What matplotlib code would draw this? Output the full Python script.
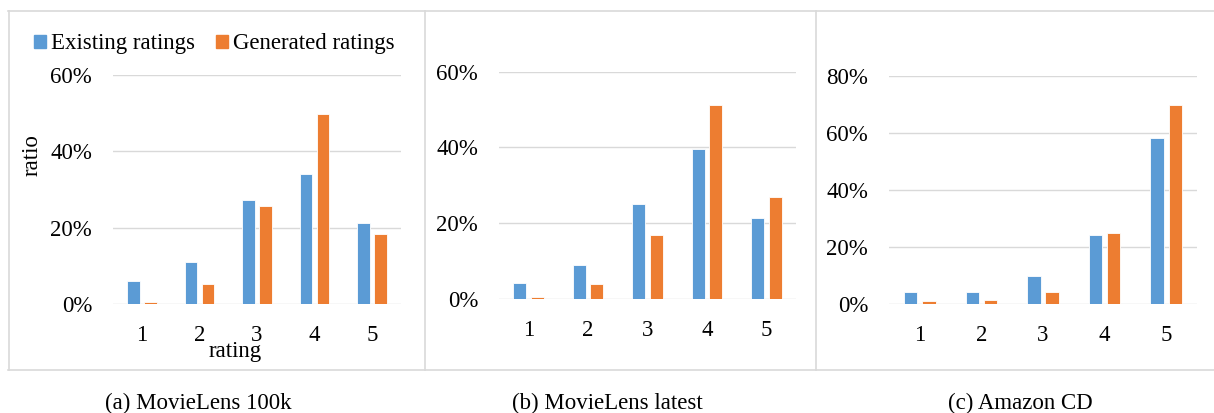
import matplotlib.pyplot as plt
from matplotlib.lines import Line2D
from matplotlib.patches import Patch
from matplotlib.ticker import FuncFormatter
import numpy as np

plt.rcParams['font.family'] = ['Liberation Serif', 'DejaVu Serif']
plt.rcParams['font.size'] = 16.5

# rating distributions, in percent
ratings = ['1', '2', '3', '4', '5']

ml100k_existing = [5.9, 11.1, 27.2, 34.1, 21.1]
ml100k_generated = [0.5, 5.2, 25.7, 49.7, 18.3]

mllatest_existing = [4.1, 9.1, 25.2, 39.5, 21.5]
mllatest_generated = [0.4, 4.0, 16.9, 51.1, 26.9]

amazon_existing = [4.1, 4.1, 9.8, 24.1, 58.0]
amazon_generated = [0.9, 1.2, 4.0, 24.7, 69.6]

captions = ['(a) MovieLens 100k', '(b) MovieLens latest', '(c) Amazon CD']

BLUE = '#5B9BD5'
ORANGE = '#ED7D31'
GRID = '#D9D9D9'

W, H = 1214, 413


def px_box(left, right, y0, ytop):
    return [left / W, 1 - y0 / H, (right - left) / W, (y0 - ytop) / H]


fig = plt.figure(figsize=(W / 100, H / 100), dpi=100)

panels = [
    (px_box(113, 401, 304, 75), ml100k_existing, ml100k_generated, 60, 198),
    (px_box(499, 796, 299, 71.7), mllatest_existing, mllatest_generated, 60, 607),
    (px_box(889, 1197, 303.7, 75.7), amazon_existing, amazon_generated, 80, 1020),
]

x = np.arange(len(ratings))
axes = []
for (box, existing, generated, ymax, cap_x), cap in zip(panels, captions):
    ax = fig.add_axes(box)
    ax.bar(x - 0.148, existing, width=0.22, color=BLUE, edgecolor='white',
           linewidth=0.6, zorder=3)
    ax.bar(x + 0.148, generated, width=0.22, color=ORANGE, edgecolor='white',
           linewidth=0.6, zorder=3)
    ax.set_xlim(-0.5, len(ratings) - 0.5)
    ax.set_ylim(0, ymax)
    ax.set_yticks(np.arange(0, ymax + 1, 20))
    ax.yaxis.set_major_formatter(FuncFormatter(lambda v, p: f'{v:.0f}%'))
    ax.set_xticks(x)
    ax.set_xticklabels(ratings)
    ax.grid(axis='y', color=GRID, linewidth=1.0, zorder=0)
    ax.set_axisbelow(True)
    for s in ax.spines.values():
        s.set_visible(False)
    ax.tick_params(axis='both', length=0, pad=15, labelsize=16.5)
    ax.set_facecolor('none')
    fig.text(cap_x / W, 1 - 409 / H, cap, ha='center', va='baseline')
    axes.append(ax)

# axis titles on the first panel
fig.text(32 / W, 1 - 155 / H, 'ratio', rotation=90, ha='center', va='center')
fig.text(235 / W, 1 - 351 / H, 'rating', ha='center', va='center')

handles = [Patch(color=BLUE), Patch(color=ORANGE)]
axes[0].legend(handles, ['Existing ratings', 'Generated ratings'],
               loc='center left', bbox_to_anchor=(34 / W, 1 - 44 / H),
               bbox_transform=fig.transFigure, ncol=2, frameon=False,
               borderpad=0, borderaxespad=0, handlelength=0.52,
               handleheight=0.52, handletextpad=0.22, columnspacing=0.92,
               fontsize=16.5)

# light frame around the panels
frame = dict(color=GRID, linewidth=1.2, transform=fig.transFigure)
fig.add_artist(Line2D([8 / W, 1], [1 - 11 / H, 1 - 11 / H], **frame))
fig.add_artist(Line2D([8 / W, 1], [1 - 370 / H, 1 - 370 / H], **frame))
for xv in [8.5, 425, 815.5]:
    fig.add_artist(Line2D([xv / W, xv / W], [1 - 11 / H, 1 - 370 / H], **frame))

fig.savefig('out.png', dpi=100)
